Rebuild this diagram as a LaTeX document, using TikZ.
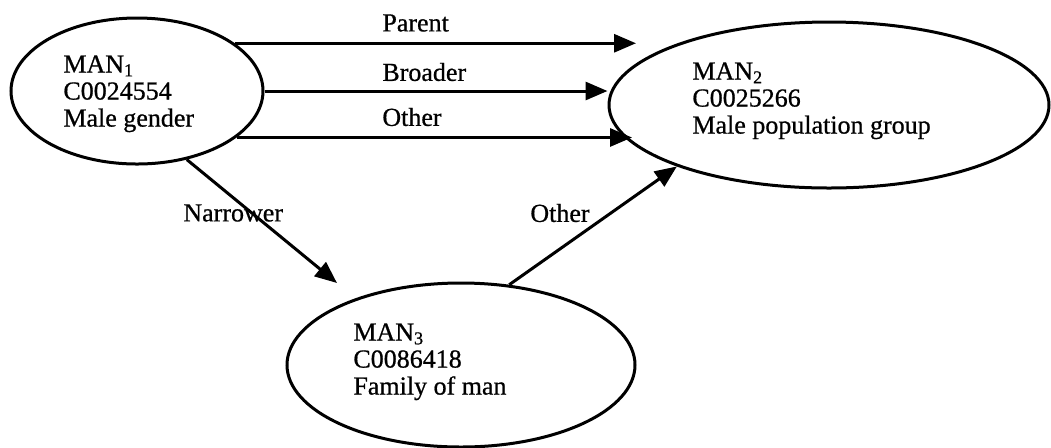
\documentclass[tikz,border=0pt]{standalone}
\usepackage{fontspec}
\setmainfont{Liberation Serif}[FakeBold=0.7]
\usetikzlibrary{shapes.geometric,arrows.meta}
\tikzset{
  concept/.style={draw, ellipse, line width=1.5pt, inner sep=0pt},
  conceptText/.style={align=left, inner sep=0pt, anchor=north west, font=\fontsize{13}{13.5}\selectfont},
  rel/.style={line width=1.5pt, -{Triangle[length=11pt,width=9pt]}},
  relLabel/.style={inner sep=0pt, font=\fontsize{13}{13.5}\selectfont}
}
\begin{document}
\begin{tikzpicture}[x=0.5pt, y=-0.5pt]
\useasboundingbox (0,0) rectangle (1051,447);
% concepts
\node[concept, minimum width=126pt, minimum height=73pt] (man1) at (137,91) {};
\node[concept, minimum width=220pt, minimum height=83pt] (man2) at (829,105) {};
\node[concept, minimum width=174pt, minimum height=82pt] (man3) at (461,365) {};
\node[conceptText] (man1txt) at (63,55) {MAN\textsubscript{1}\\C0024554\\Male gender};
\node[conceptText] (man2txt) at (692,62) {MAN\textsubscript{2}\\C0025266\\Male population group};
\node[conceptText] (man3txt) at (353,323) {MAN\textsubscript{3}\\C0086418\\Family of man};
% free ends
\coordinate (parentEnd) at (636,43);
\coordinate (otherEnd) at (632,138);
\coordinate (narrowerEnd) at (337,283);
% relations
\draw[rel] (man1.26) -- (man1.26 -| parentEnd);
\draw[rel] (man1.east) -- (man1.east -| man2.west);
\draw[rel] (man1.-25) -- (man1.-25 -| otherEnd);
\draw[rel] (man1.-54) -- (narrowerEnd);
\draw[rel] (man3.59) -- (man2.202);
\foreach \n/\x/\y/\t in {parentLbl/382/23/Parent, broaderLbl/382/72/Broader, otherLbl/382/117/Other,
                         narrowerLbl/183/213/Narrower, otherLblB/530/213/Other}
    \node[relLabel, anchor=west] (\n) at (\x,\y) {\t};
\end{tikzpicture}
\end{document}
